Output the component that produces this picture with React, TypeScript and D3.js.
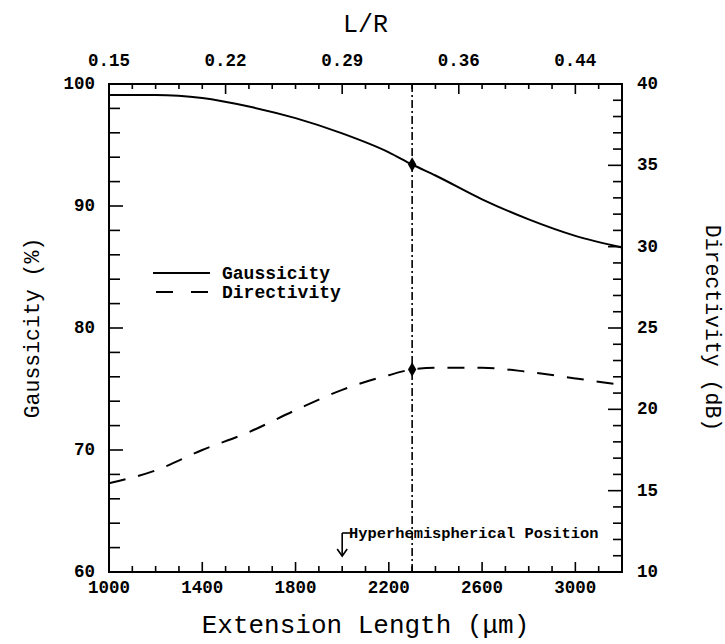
import React from 'react';
import * as d3 from 'd3';

// Data
const extension = [1000, 1200, 1400, 1600, 1800, 2000, 2200, 2300, 2400, 2600, 2800, 3000, 3200];
const gaussicity = [99.1, 99.1, 98.85, 98.15, 97.2, 95.95, 94.4, 93.4, 92.5, 90.55, 88.9, 87.55, 86.6];
const directivity = [15.45, 16.25, 17.5, 18.6, 19.95, 21.2, 22.1, 22.45, 22.55, 22.55, 22.3, 21.9, 21.5];

const bottomTicks = [1000, 1400, 1800, 2200, 2600, 3000];
const topTickValues = [1000, 1500, 2000, 2500, 3000];
const topTickLabels = ['0.15', '0.22', '0.29', '0.36', '0.44'];
const leftTicks = [60, 70, 80, 90, 100];
const rightTicks = [10, 15, 20, 25, 30, 35, 40];
const markerX = 2300;
const arrowX = 2000;
const annotationText = 'Hyperhemispherical Position';
const legendLabels = ['Gaussicity', 'Directivity'];

const W = 725;
const H = 644;
const L = 109, R = 622, T = 84, B = 572;

const MONO = '"Liberation Mono", "DejaVu Sans Mono", monospace';

export default function App() {
  const x = d3.scaleLinear().domain([1000, 3200]).range([L, R]);
  const yL = d3.scaleLinear().domain([60, 100]).range([B, T]);
  const yR = d3.scaleLinear().domain([10, 40]).range([B, T]);

  const gPts: [number, number][] = extension.map((e, i) => [e, gaussicity[i]]);
  const dPts: [number, number][] = extension.map((e, i) => [e, directivity[i]]);

  const gLine = d3.line<[number, number]>().x(d => x(d[0])).y(d => yL(d[1])).curve(d3.curveMonotoneX);
  const dLine = d3.line<[number, number]>().x(d => x(d[0])).y(d => yR(d[1])).curve(d3.curveMonotoneX);

  const diamond = d3.symbol().type(d3.symbolDiamond).size(60)() || '';

  const bottomMinor = d3.range(1000, 3201, 100);
  const topMinor = d3.range(1000, 3201, 100);
  const leftMinor = d3.range(60, 101, 2);
  const rightMinor = d3.range(10, 41, 1);

  const gMark = gaussicity[extension.indexOf(markerX)];
  const dMark = directivity[extension.indexOf(markerX)];
  const ax = x(arrowX);

  return (
    <svg width={W} height={H} style={{ position: 'absolute', left: 0, top: 0, background: '#fff' }}>
      <rect x={0} y={0} width={W} height={H} fill="#fff" />
      {/* ticks */}
      <g stroke="#000" strokeWidth={1.6}>
        {bottomMinor.map(v => {
          const len = bottomTicks.includes(v) ? 10 : 6;
          return <line key={'b' + v} x1={x(v)} x2={x(v)} y1={B} y2={B - len} />;
        })}
        {topMinor.map(v => {
          const len = topTickValues.includes(v) ? 10 : 5;
          return <line key={'t' + v} x1={x(v)} x2={x(v)} y1={T} y2={T + len} />;
        })}
        {leftMinor.map(v => {
          const len = v % 10 === 0 ? 14 : 11;
          return <line key={'l' + v} x1={L} x2={L + len} y1={yL(v)} y2={yL(v)} />;
        })}
        {rightMinor.map(v => {
          const len = v % 5 === 0 ? 14 : 9;
          return <line key={'r' + v} x1={R} x2={R - len} y1={yR(v)} y2={yR(v)} />;
        })}
      </g>
      {/* frame */}
      <rect x={L} y={T} width={R - L} height={B - T} fill="none" stroke="#000" strokeWidth={2} />

      {/* vertical dash-dot line at marker */}
      <line x1={x(markerX)} x2={x(markerX)} y1={T} y2={B} stroke="#000" strokeWidth={1.6} strokeDasharray="8,3,2,3" />

      {/* curves */}
      <path d={gLine(gPts) || ''} fill="none" stroke="#000" strokeWidth={2} />
      <path d={dLine(dPts) || ''} fill="none" stroke="#000" strokeWidth={2} strokeDasharray="17,13" />

      {/* markers */}
      <path d={diamond} transform={`translate(${x(markerX)},${yL(gMark)})`} fill="#000" />
      <path d={diamond} transform={`translate(${x(markerX)},${yR(dMark)})`} fill="#000" />

      {/* tick labels */}
      <g fontFamily={MONO} fontWeight="bold" fontSize={17.5} fill="#000">
        {bottomTicks.map(v => (
          <text key={'bl' + v} x={x(v)} y={593} textAnchor="middle">{v}</text>
        ))}
        {topTickValues.map((v, i) => (
          <text key={'tl' + v} x={x(v)} y={66} textAnchor="middle">{topTickLabels[i]}</text>
        ))}
        {leftTicks.map(v => (
          <text key={'ll' + v} x={95} y={yL(v)} textAnchor="end" dominantBaseline="central">{v}</text>
        ))}
        {rightTicks.map(v => (
          <text key={'rl' + v} x={637} y={yR(v)} textAnchor="start" dominantBaseline="central">{v}</text>
        ))}
      </g>

      {/* axis titles */}
      <g fontFamily={MONO} fill="#000">
        <text x={(L + R) / 2} y={32} textAnchor="middle" fontSize={25}>L/R</text>
        <text x={(L + R) / 2} y={633} textAnchor="middle" fontSize={26}>Extension Length (μm)</text>
        <text transform={`translate(33,${(T + B) / 2}) rotate(-90)`} textAnchor="middle" dominantBaseline="central" fontSize={21.5}>Gaussicity (%)</text>
        <text transform={`translate(712,${(T + B) / 2}) rotate(90)`} textAnchor="middle" dominantBaseline="central" fontSize={21.5}>Directivity (dB)</text>
      </g>

      {/* legend */}
      <line x1={153} x2={210} y1={273} y2={273} stroke="#000" strokeWidth={2} />
      <line x1={156} x2={210} y1={292} y2={292} stroke="#000" strokeWidth={2} strokeDasharray="17,18" />
      <g fontFamily={MONO} fontWeight="bold" fontSize={18} fill="#000">
        <text x={222} y={279}>{legendLabels[0]}</text>
        <text x={222} y={298}>{legendLabels[1]}</text>
      </g>

      {/* annotation */}
      <g stroke="#000" strokeWidth={1.6} fill="none">
        <line x1={ax} x2={ax} y1={533} y2={556} />
        <path d={`M${ax - 5},${549} L${ax},${556} L${ax + 5},${549}`} />
        <line x1={ax} x2={ax + 8} y1={533} y2={533} />
      </g>
      <text x={349} y={538} fontFamily={MONO} fontWeight="bold" fontSize={15.4} fill="#000">{annotationText}</text>
    </svg>
  );
}
